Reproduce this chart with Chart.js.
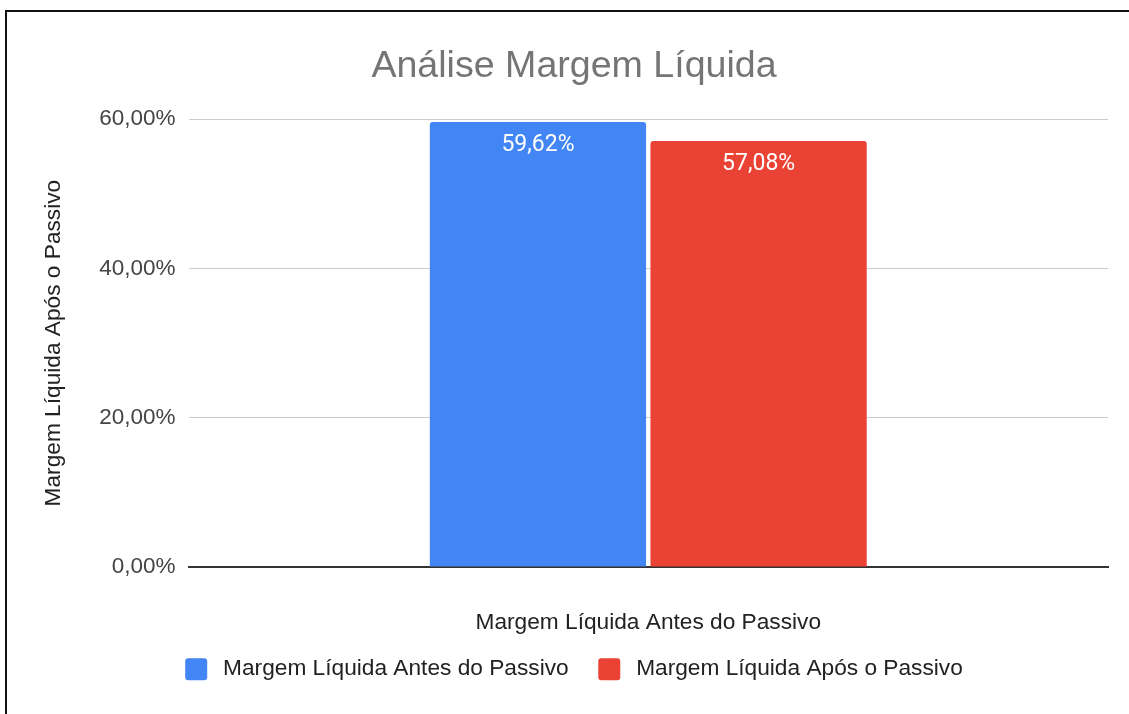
<!DOCTYPE html>
<html>
<head>
<meta charset="utf-8">
<script src="https://cdn.jsdelivr.net/npm/chart.js@4.4.0/dist/chart.umd.min.js"></script>
<style>
  html, body { margin: 0; padding: 0; background: #fff; }
  #wrap {
    position: absolute; left: 5px; top: 10px;
    width: 1124px; height: 704px;
    border-top: 2px solid #111; border-left: 2px solid #111;
  }
  canvas { display: block; }
</style>
</head>
<body>
<div id="wrap"><canvas id="chart" width="1122" height="702"></canvas></div>
<script>
const categories = ["Margem Líquida Antes do Passivo"];
const seriesNames = ["Margem Líquida Antes do Passivo", "Margem Líquida Após o Passivo"];
const antesValues = [59.62];
const aposValues = [57.08];
const yTicks = [0, 20, 40, 60];

function fmtPct(v) {
  return v.toFixed(2).replace(".", ",") + "%";
}

// white value labels inside the top of each bar
const barLabels = {
  id: "barLabels",
  afterDatasetsDraw(chart) {
    const ctx = chart.ctx;
    ctx.save();
    ctx.fillStyle = "#ffffff";
    ctx.font = "23px Roboto";
    ctx.textAlign = "center";
    ctx.textBaseline = "middle";
    chart.data.datasets.forEach((ds, i) => {
      chart.getDatasetMeta(i).data.forEach((bar, j) => {
        ctx.fillText(fmtPct(ds.data[j]), bar.x, bar.y + 23);
      });
    });
    ctx.restore();
  }
};

new Chart(document.getElementById("chart"), {
  type: "bar",
  data: {
    labels: categories,
    datasets: [
      { label: seriesNames[0], data: antesValues, backgroundColor: "#4285F4",
        borderRadius: { topLeft: 3, topRight: 3 }, borderSkipped: "bottom" },
      { label: seriesNames[1], data: aposValues, backgroundColor: "#EA4335",
        borderRadius: { topLeft: 3, topRight: 3 }, borderSkipped: "bottom" }
    ]
  },
  options: {
    responsive: false,
    animation: false,
    categoryPercentage: 0.48,
    barPercentage: 0.98,
    layout: { padding: { left: 33, right: 21, top: 30, bottom: 23.5 } },
    plugins: {
      title: {
        display: true,
        text: "Análise Margem Líquida",
        color: "#757575",
        font: { family: "Liberation Sans", size: 37.6, weight: "normal" },
        padding: { top: 2, bottom: 30 }
      },
      legend: {
        position: "bottom",
        labels: {
          color: "#222",
          font: { family: "Liberation Sans", size: 22.7 },
          boxWidth: 22, boxHeight: 22,
          useBorderRadius: true, borderRadius: 3,
          padding: 16,
          generateLabels(chart) {
            const items = Chart.defaults.plugins.legend.labels.generateLabels(chart);
            // a little extra room beside the swatch and between the two entries
            items.forEach((it, i) => {
              it.text = "\u2009" + it.text + (i === 0 ? "\u2009\u2009\u2009" : "");
            });
            return items;
          }
        }
      },
      tooltip: { enabled: false }
    },
    scales: {
      x: {
        grid: { display: false, drawTicks: false },
        border: { color: "#333", width: 2 },
        ticks: { display: false },
        title: {
          display: true,
          text: categories[0],
          color: "#222",
          font: { family: "Liberation Sans", size: 22.7 },
          padding: { top: 42, bottom: 5.5 }
        }
      },
      y: {
        min: 0, max: 60,
        afterBuildTicks(axis) { axis.ticks = yTicks.map(v => ({ value: v })); },
        grid: { color: "#cccccc", lineWidth: 1, drawTicks: false },
        border: { display: false },
        ticks: {
          color: "#444",
          font: { family: "Liberation Sans", size: 22.5 },
          padding: 13,
          callback: v => fmtPct(v)
        },
        title: {
          display: true,
          text: seriesNames[1],
          color: "#222",
          font: { family: "Liberation Sans", size: 22.7 },
          padding: { top: 0, bottom: 19 }
        }
      }
    }
  },
  plugins: [barLabels]
});
</script>
</body>
</html>
